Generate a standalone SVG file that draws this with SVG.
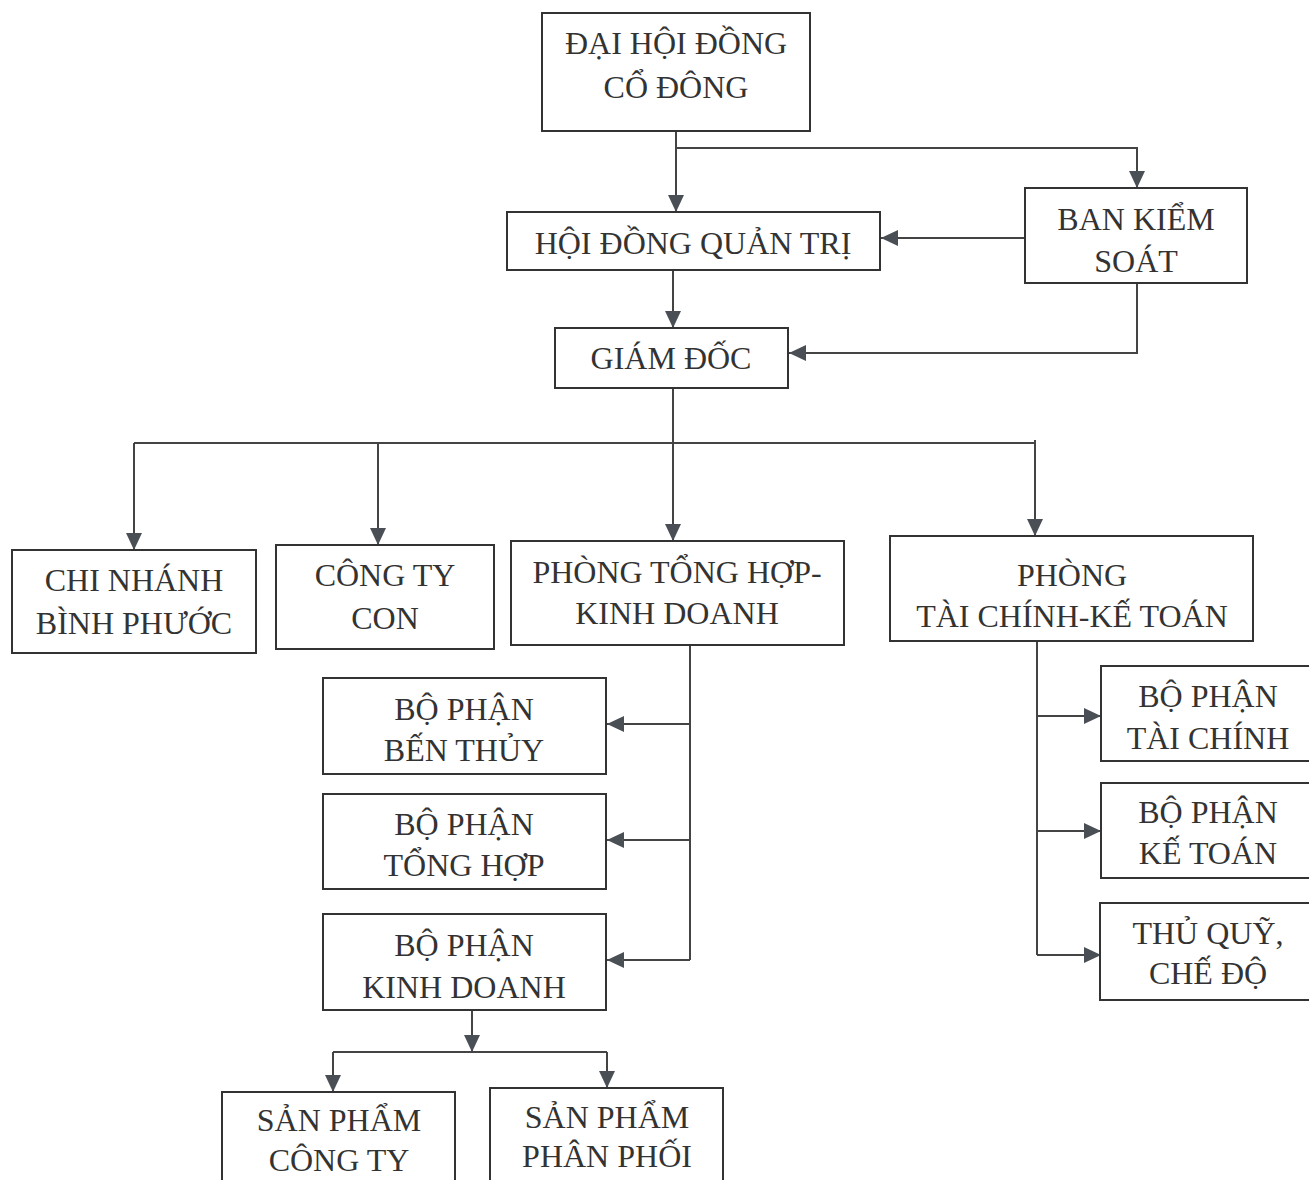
<svg xmlns="http://www.w3.org/2000/svg" width="1309" height="1180" viewBox="0 0 1309 1180">
<style>
.box{fill:#fff;stroke:#333;stroke-width:2}
.t{font-family:"Liberation Serif","Times New Roman",serif;font-size:32px;fill:#333;text-anchor:middle;dominant-baseline:central}
.c{fill:none;stroke:#444;stroke-width:2}
</style>
<defs>
<marker id="a" markerUnits="userSpaceOnUse" markerWidth="20" markerHeight="18" refX="17" refY="8" orient="auto">
<path d="M0,0 L17,8 L0,16 z" fill="#4a4f55"/>
</marker>
</defs>
<rect width="1309" height="1180" fill="#fff"/>
<g id="connectors">
<path class="c" d="M676,131 V212" marker-end="url(#a)"/>
<path class="c" d="M676,148 H1137 V188" marker-end="url(#a)"/>
<path class="c" d="M1025,238 H881" marker-end="url(#a)"/>
<path class="c" d="M673,270 V328" marker-end="url(#a)"/>
<path class="c" d="M1137,283 V353 H789" marker-end="url(#a)"/>
<path class="c" d="M673,388 V440"/>
<path class="c" d="M134,443 H1035"/>
<path class="c" d="M134,443 V550" marker-end="url(#a)"/>
<path class="c" d="M378,443 V545" marker-end="url(#a)"/>
<path class="c" d="M673,440 V541" marker-end="url(#a)"/>
<path class="c" d="M1035,440 V536" marker-end="url(#a)"/>
<path class="c" d="M690,645 V960"/>
<path class="c" d="M690,724 H607" marker-end="url(#a)"/>
<path class="c" d="M690,840 H607" marker-end="url(#a)"/>
<path class="c" d="M690,960 H607" marker-end="url(#a)"/>
<path class="c" d="M472,1010 V1052" marker-end="url(#a)"/>
<path class="c" d="M333,1052 H607"/>
<path class="c" d="M333,1052 V1092" marker-end="url(#a)"/>
<path class="c" d="M607,1052 V1088" marker-end="url(#a)"/>
<path class="c" d="M1037,641 V955"/>
<path class="c" d="M1037,716 H1101" marker-end="url(#a)"/>
<path class="c" d="M1037,831 H1101" marker-end="url(#a)"/>
<path class="c" d="M1037,955 H1101" marker-end="url(#a)"/>
</g>
<g id="dhdcd"><rect class="box" x="542" y="13" width="268" height="118"/><text class="t" x="676" y="43">ĐẠI HỘI ĐỒNG</text><text class="t" x="676" y="87">CỔ ĐÔNG</text></g>
<g id="hdqt"><rect class="box" x="507" y="212" width="373" height="58"/><text class="t" x="693" y="243">HỘI ĐỒNG QUẢN TRỊ</text></g>
<g id="bks"><rect class="box" x="1025" y="188" width="222" height="95"/><text class="t" x="1136" y="219">BAN KIỂM</text><text class="t" x="1136" y="261">SOÁT</text></g>
<g id="gd"><rect class="box" x="555" y="328" width="233" height="60"/><text class="t" x="671" y="358">GIÁM ĐỐC</text></g>
<g id="cnbp"><rect class="box" x="12" y="550" width="244" height="103"/><text class="t" x="134" y="580">CHI NHÁNH</text><text class="t" x="134" y="623">BÌNH PHƯỚC</text></g>
<g id="ctcon"><rect class="box" x="276" y="545" width="218" height="104"/><text class="t" x="385" y="575">CÔNG TY</text><text class="t" x="385" y="618">CON</text></g>
<g id="pthkd"><rect class="box" x="511" y="541" width="333" height="104"/><text class="t" x="677" y="572">PHÒNG TỔNG HỢP-</text><text class="t" x="677" y="613">KINH DOANH</text></g>
<g id="ptckt"><rect class="box" x="890" y="536" width="363" height="105"/><text class="t" x="1072" y="575">PHÒNG</text><text class="t" x="1072" y="616">TÀI CHÍNH-KẾ TOÁN</text></g>
<g id="bpbt"><rect class="box" x="323" y="678" width="283" height="96"/><text class="t" x="464" y="709">BỘ PHẬN</text><text class="t" x="464" y="750">BẾN THỦY</text></g>
<g id="bpth"><rect class="box" x="323" y="794" width="283" height="95"/><text class="t" x="464" y="824">BỘ PHẬN</text><text class="t" x="464" y="865">TỔNG HỢP</text></g>
<g id="bpkd"><rect class="box" x="323" y="914" width="283" height="96"/><text class="t" x="464" y="945">BỘ PHẬN</text><text class="t" x="464" y="987">KINH DOANH</text></g>
<g id="spct"><rect class="box" x="222" y="1092" width="233" height="100"/><text class="t" x="339" y="1120">SẢN PHẨM</text><text class="t" x="339" y="1160">CÔNG TY</text></g>
<g id="sppp"><rect class="box" x="490" y="1088" width="233" height="104"/><text class="t" x="607" y="1117">SẢN PHẨM</text><text class="t" x="607" y="1156">PHÂN PHỐI</text></g>
<g id="bptc"><rect class="box" x="1101" y="666" width="215" height="95"/><text class="t" x="1208" y="696">BỘ PHẬN</text><text class="t" x="1208" y="738">TÀI CHÍNH</text></g>
<g id="bpkt"><rect class="box" x="1101" y="783" width="215" height="95"/><text class="t" x="1208" y="812">BỘ PHẬN</text><text class="t" x="1208" y="853">KẾ TOÁN</text></g>
<g id="tqcd"><rect class="box" x="1100" y="903" width="216" height="97"/><text class="t" x="1208" y="933">THỦ QUỸ,</text><text class="t" x="1208" y="973">CHẾ ĐỘ</text></g>
</svg>
